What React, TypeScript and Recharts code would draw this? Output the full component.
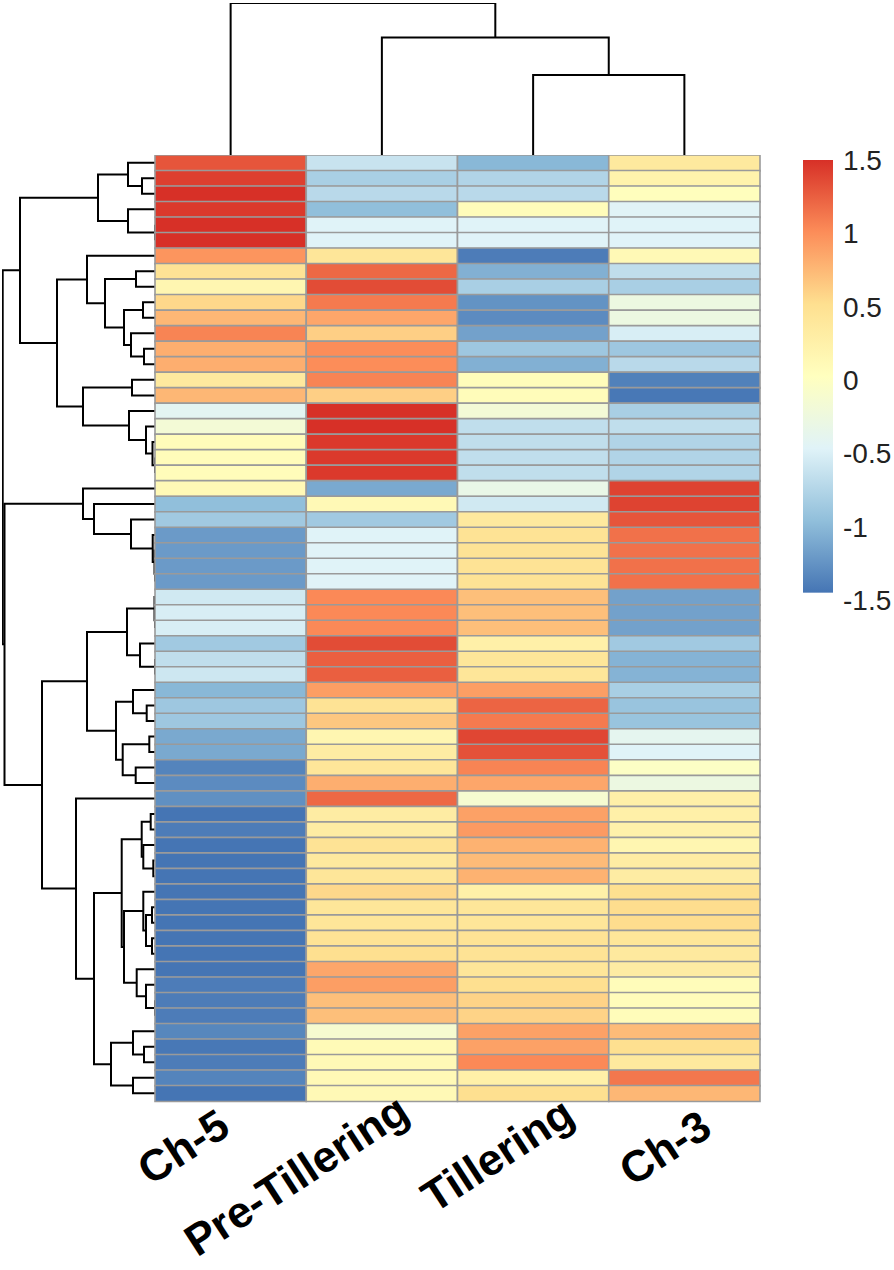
import React from 'react';
import { BarChart, Bar, Cell, XAxis, YAxis, ScatterChart, Scatter } from 'recharts';

// ---------- data ----------
const columns = ['Ch-5', 'Pre-Tillering', 'Tillering', 'Ch-3'];

const ch5 = [1.3, 1.42, 1.5, 1.45, 1.5, 1.5, 0.95, 0.45, 0.15, 0.55,
  0.75, 1.05, 0.8, 0.8, 0.35, 0.75, -0.45, -0.2, 0.05, 0.05,
  0.05, 0.1, -1.0, -0.9, -1.25, -1.25, -1.25, -1.25, -0.6, -0.55,
  -0.55, -0.9, -0.7, -0.62, -1.05, -0.92, -0.92, -1.15, -1.15, -1.4,
  -1.35, -1.32, -1.5, -1.45, -1.5, -1.5, -1.5, -1.5, -1.5, -1.5,
  -1.5, -1.5, -1.5, -1.45, -1.45, -1.45, -1.38, -1.48, -1.45, -1.4, -1.5];

const preTillering = [-0.65, -0.85, -0.75, -1.0, -0.5, -0.5, 0.4, 1.2, 1.35, 1.1,
  0.85, 0.6, 1.0, 1.0, 1.05, 0.6, 1.5, 1.5, 1.45, 1.45,
  1.45, -1.15, 0.1, -0.9, -0.5, -0.5, -0.5, -0.5, 1.02, 1.02,
  1.02, 1.35, 1.25, 1.25, 0.9, 0.45, 0.65, 0.15, 0.3, 0.4,
  0.8, 1.2, 0.3, 0.3, 0.45, 0.35, 0.4, 0.55, 0.4, 0.4,
  0.45, 0.5, 0.85, 0.9, 0.7, 0.7, -0.15, 0.08, 0.1, 0.1, 0.1];

const tillering = [-1.05, -0.8, -0.75, 0.05, -0.5, -0.5, -1.45, -1.1, -0.85, -1.3,
  -1.35, -1.2, -0.92, -1.1, 0.05, 0.05, -0.2, -0.7, -0.7, -0.7,
  -0.7, -0.35, -0.6, 0.35, 0.45, 0.45, 0.45, 0.45, 0.7, 0.7,
  0.7, 0.25, 0.4, 0.4, 0.9, 1.22, 1.1, 1.38, 1.32, 1.05,
  0.85, -0.15, 0.88, 0.92, 0.78, 0.72, 0.78, 0.25, 0.4, 0.4,
  0.45, 0.45, 0.4, 0.5, 0.58, 0.58, 0.88, 0.88, 1.02, 0.25, 0.5];

const ch3 = [0.35, 0.2, 0.02, -0.48, -0.5, -0.5, 0.1, -0.7, -0.85, -0.3,
  -0.3, -0.55, -0.92, -0.75, -1.42, -1.48, -0.85, -0.7, -0.8, -0.8,
  -0.8, 1.4, 1.4, 1.3, 1.15, 1.15, 1.15, 1.15, -1.2, -1.2,
  -1.2, -0.9, -1.08, -1.08, -0.85, -0.95, -0.95, -0.42, -0.5, -0.05,
  -0.3, 0.25, 0.25, 0.22, 0.15, 0.3, 0.3, 0.5, 0.52, 0.52,
  0.4, 0.35, 0.3, 0.05, 0.05, 0.05, 0.72, 0.5, 0.35, 1.12, 0.75];

const legendTicks = [-1.5, -1, -0.5, 0, 0.5, 1, 1.5];
const legendRange: [number, number] = [-1.45, 1.5];

// row dendrogram: [node, left, right, height]; numbers are leaf rows, strings are earlier nodes
type Ref = number | string;
const rowMerges: [string, Ref, Ref, number][] = [
  ['B', 1, 2, 1.3], ['A', 0, 'B', 2.7], ['S45', 4, 5, 0], ['C', 3, 'S45', 2.7], ['D', 'A', 'C', 5.7],
  ['I', 7, 8, 1.9], ['K', 9, 10, 1.2], ['M', 12, 13, 1.1], ['L', 11, 'M', 2.4], ['J', 'K', 'L', 3.1],
  ['H', 'I', 'J', 5.0], ['G', 6, 'H', 6.8], ['O', 14, 15, 2.3], ['S1920', 19, 20, 0], ['R', 18, 'S1920', 0.25],
  ['Q', 17, 'R', 0.9], ['P', 16, 'Q', 2.6], ['N', 'O', 'P', 7.2], ['F', 'G', 'N', 9.8], ['E', 'D', 'F', 13.5],
  ['S2627', 26, 27, 0], ['S25', 25, 'S2627', 0.05], ['Y', 24, 'S25', 0.23], ['X', 23, 'Y', 2.4], ['W', 22, 'X', 6.1],
  ['T', 21, 'W', 7.2], ['S2930', 29, 30, 0], ['AD', 28, 'S2930', 0.05], ['S3233', 32, 33, 0], ['AE', 31, 'S3233', 1.5],
  ['AB', 'AD', 'AE', 2.8], ['AH', 35, 36, 0.83], ['AF', 34, 'AH', 2.2], ['AI', 37, 38, 0.57], ['AJ', 39, 40, 1.93],
  ['AG', 'AI', 'AJ', 3.23], ['AC', 'AF', 'AG', 3.9], ['Z', 'AB', 'AC', 6.8], ['AT', 42, 43, 0.43], ['AV', 45, 46, 0.17],
  ['AU', 44, 'AV', 1.17], ['AO', 'AT', 'AU', 1.33], ['AX', 48, 49, 0.3], ['AZ', 50, 51, 0.3], ['AY', 'AX', 'AZ', 0.9],
  ['AQ', 47, 'AY', 1.17], ['BB', 54, 55, 0], ['BA', 53, 'BB', 0.9], ['AS', 52, 'BA', 1.83], ['AR', 'AQ', 'AS', 3.1],
  ['AM', 'AO', 'AR', 3.33], ['BE', 57, 58, 1.1], ['BC', 56, 'BE', 2.2], ['BD', 59, 60, 2.2], ['AN', 'BC', 'BD', 4.4],
  ['AL', 'AM', 'AN', 6.1], ['AK', 41, 'AL', 7.9], ['U', 'Z', 'AK', 11.3], ['V', 'T', 'U', 15.05], ['root', 'E', 'V', 15.23],
];

const colMerges: [string, Ref, Ref, number][] = [
  ['c1', 2, 3, 8.0], ['c2', 1, 'c1', 11.75], ['c3', 0, 'c2', 15.2],
];

// ---------- helpers ----------
const PALETTE = ['#4575B4', '#91BFDB', '#E0F3F8', '#FFFFBF', '#FEE090', '#FC8D59', '#D73027'];
const rgb = (h: string) => [1, 3, 5].map((i) => parseInt(h.slice(i, i + 2), 16));
function colorFor(v: number) {
  const t = ((Math.max(-1.5, Math.min(1.5, v)) + 1.5) / 3) * 6;
  const i = Math.min(5, Math.floor(t));
  const f = t - i;
  const a = rgb(PALETTE[i]);
  const b = rgb(PALETTE[i + 1]);
  const c = a.map((x, k) => Math.round(x + (b[k] - x) * f));
  return `rgb(${c[0]},${c[1]},${c[2]})`;
}

function buildSegments(merges: [string, Ref, Ref, number][]) {
  const pos: Record<string, number> = {};
  const ht: Record<string, number> = {};
  const P = (r: Ref) => (typeof r === 'number' ? r + 0.5 : pos[r]);
  const H = (r: Ref) => (typeof r === 'number' ? 0 : ht[r]);
  return merges.map(([id, a, b, h]) => {
    const pa = P(a), pb = P(b), ha = H(a), hb = H(b);
    pos[id] = (pa + pb) / 2;
    ht[id] = h;
    return { id, pts: [{ h: ha, p: pa }, { h, p: pa }, { h, p: pb }, { h: hb, p: pb }] };
  });
}

const seriesValues = [ch5, preTillering, tillering, ch3];
const heatRows = ch5.map((_, i) => ({ name: `r${i}`, c0: 1, c1: 1, c2: 1, c3: 1 }));
const rowSegs = buildSegments(rowMerges);
const colSegs = buildSegments(colMerges);
const legendData = [{ name: 'scale', range: legendRange }];

const EmptyShape = () => <g />;
const FONT = '"Liberation Sans", Arial, Helvetica, sans-serif';
const LABEL_NUDGE = [
  { dx: 2, dy: 24 },
  { dx: 30, dy: 9 },
  { dx: 44, dy: 12 },
  { dx: 30, dy: 25 },
];

const ColLabel = (props: any) => {
  const { x, y, payload } = props;
  const idx = Math.floor(payload.value);
  const n = LABEL_NUDGE[idx];
  const ex = x + n.dx;
  const ey = y + n.dy;
  return (
    <text x={ex} y={ey} textAnchor="end" transform={`rotate(-33, ${ex}, ${ey})`}
      fontFamily={FONT} fontWeight="bold" fontSize={44} fill="#000">
      {columns[idx]}
    </text>
  );
};

const LegendTick = (props: any) => {
  const { x, y, payload } = props;
  return (
    <text x={x + 2} y={y} dy="0.355em" textAnchor="start" fontFamily={FONT} fontSize={28} fill="#222">
      {String(payload.value)}
    </text>
  );
};

const GradientBar = (props: any) => {
  const { x, y, width, height } = props;
  return (
    <g>
      <defs>
        <linearGradient id="cbGrad" x1="0" y1="0" x2="0" y2="1">
          {PALETTE.slice().reverse().map((c, i) => (
            <stop key={i} offset={`${(i / 6) * 100}%`} stopColor={c} />
          ))}
        </linearGradient>
      </defs>
      <rect x={x} y={y} width={width} height={height} fill="url(#cbGrad)" />
    </g>
  );
};

export default function App() {
  return (
    <div style={{ position: 'absolute', left: 0, top: 0, width: 894, height: 1270, background: '#fff', overflow: 'hidden' }}>
      {/* column dendrogram */}
      <div style={{ position: 'absolute', left: 155, top: 3 }}>
        <ScatterChart width={605} height={152} margin={{ top: 0, right: 0, bottom: 0, left: 0 }}>
          <XAxis type="number" dataKey="p" domain={[0, 4]} hide />
          <YAxis type="number" dataKey="h" domain={[0, 15.2]} hide />
          {colSegs.map((s) => (
            <Scatter key={s.id} data={s.pts} shape={EmptyShape} isAnimationActive={false}
              line={{ stroke: '#000', strokeWidth: 2, fill: 'none' }} lineType="joint" />
          ))}
        </ScatterChart>
      </div>
      {/* row dendrogram */}
      <div style={{ position: 'absolute', left: 2, top: 155 }}>
        <ScatterChart width={153} height={946} margin={{ top: 0, right: 0, bottom: 0, left: 0 }}>
          <XAxis type="number" dataKey="h" domain={[0, 15.3]} reversed hide />
          <YAxis type="number" dataKey="p" domain={[0, 61]} reversed hide />
          {rowSegs.map((s) => (
            <Scatter key={s.id} data={s.pts} shape={EmptyShape} isAnimationActive={false}
              line={{ stroke: '#000', strokeWidth: 2, fill: 'none' }} lineType="joint" />
          ))}
        </ScatterChart>
      </div>
      {/* heatmap */}
      <div style={{ position: 'absolute', left: 0, top: 155 }}>
        <BarChart width={790} height={1115} data={heatRows} layout="vertical"
          margin={{ top: 0, right: 30, bottom: 0, left: 155 }} barCategoryGap={0} barGap={0}>
          <XAxis type="number" domain={[0, 4]} ticks={[0.5, 1.5, 2.5, 3.5]} interval={0}
            height={169} axisLine={false} tickLine={false} tick={<ColLabel />} />
          <YAxis type="category" dataKey="name" hide />
          {seriesValues.map((vals, c) => (
            <Bar key={c} dataKey={`c${c}`} stackId="s" isAnimationActive={false}>
              {vals.map((v, i) => (
                <Cell key={i} fill={colorFor(v)} stroke="#9a9a9a" strokeWidth={1.6} />
              ))}
            </Bar>
          ))}
        </BarChart>
      </div>
      {/* color legend */}
      <div style={{ position: 'absolute', left: 803, top: 140 }}>
        <BarChart width={91} height={480} data={legendData} margin={{ top: 20, right: 0, bottom: 20, left: 0 }}
          barCategoryGap={0}>
          <XAxis type="category" dataKey="name" hide />
          <YAxis type="number" orientation="right" domain={[-1.5, 1.5]} ticks={legendTicks} interval={0}
            width={61} axisLine={false} tickLine={false} tick={<LegendTick />} />
          <Bar dataKey="range" shape={<GradientBar />} isAnimationActive={false} />
        </BarChart>
      </div>
    </div>
  );
}
